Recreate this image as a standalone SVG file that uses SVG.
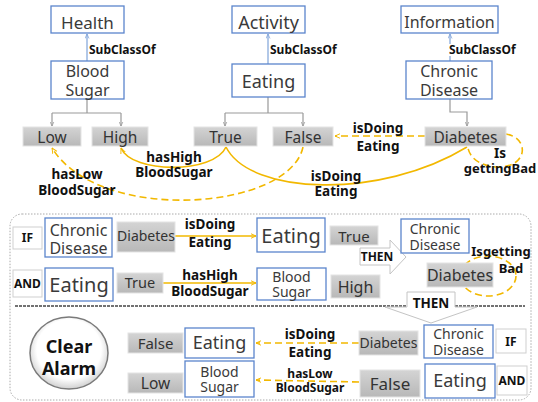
<svg xmlns="http://www.w3.org/2000/svg" width="538" height="402" viewBox="0 0 538 402">
<defs>
<linearGradient id="gg" x1="0" y1="0" x2="0" y2="1">
<stop offset="0" stop-color="#d4d4d4"/><stop offset="1" stop-color="#b8b8b8"/>
</linearGradient>
<radialGradient id="cg" cx="0.5" cy="0.45" r="0.55">
<stop offset="0.75" stop-color="#ffffff"/><stop offset="1" stop-color="#d0d0d0"/>
</radialGradient>
<marker id="ay" viewBox="0 0 10 10" refX="9" refY="5" markerWidth="6" markerHeight="6" orient="auto-start-reverse" markerUnits="userSpaceOnUse">
<path d="M0,1 L9,5 L0,9" fill="none" stroke="#f2b800" stroke-width="1.6"/>
</marker>
<marker id="ag" viewBox="0 0 10 10" refX="9" refY="5" markerWidth="5" markerHeight="5" orient="auto" markerUnits="userSpaceOnUse">
<path d="M0,1 L9,5 L0,9" fill="none" stroke="#999" stroke-width="1.5"/>
</marker>
<marker id="ab" viewBox="0 0 10 10" refX="9" refY="5" markerWidth="5" markerHeight="5" orient="auto" markerUnits="userSpaceOnUse">
<path d="M0,1 L9,5 L0,9" fill="none" stroke="#7fa3d9" stroke-width="1.5"/>
</marker>
</defs>
<style>
text{font-family:"Noto Sans","Open Sans","DejaVu Sans",sans-serif;text-anchor:middle;}
.bx{fill:#fff;stroke:#5b85cc;stroke-width:1.3;}
.gy{fill:url(#gg);stroke:#e4e4e4;stroke-width:1;}
.tb{fill:#fff;stroke:#cfcfcf;stroke-width:1;}
.t{fill:#3a3a3a;}
.g{fill:#333;}
.lb{fill:#111;font-weight:bold;}
.sub{stroke:#7fa3d9;stroke-width:1.2;fill:none;}
.gl{stroke:#999;stroke-width:1.2;fill:none;}
.ys{stroke:#f2b800;stroke-width:1.6;fill:none;}
.yd{stroke:#f2b800;stroke-width:1.6;fill:none;stroke-dasharray:7 4;}
.blk{fill:#fff;stroke:#c4c4c4;stroke-width:1;}
</style>

<!-- frame of rule section -->
<rect x="10" y="214" width="521" height="186" rx="12" fill="none" stroke="#aaa" stroke-width="1" stroke-dasharray="1.5 1.5"/>

<g id="connectors">
<!-- subclass -->
<path class="sub" d="M87,61 V34" marker-end="url(#ab)"/>
<path class="sub" d="M268,64 V34" marker-end="url(#ab)"/>
<path class="sub" d="M450,61 V34" marker-end="url(#ab)"/>
<!-- gray tree -->
<path class="gl" d="M87,99 V113 M52,113 H121"/>
<path class="gl" d="M52,113 V126" marker-end="url(#ag)"/>
<path class="gl" d="M121,113 V126" marker-end="url(#ag)"/>
<path class="gl" d="M268,97 V113 M225,113 H303"/>
<path class="gl" d="M225,113 V126" marker-end="url(#ag)"/>
<path class="gl" d="M303,113 V126" marker-end="url(#ag)"/>
<path class="gl" d="M450,99 V112 H467 V126" marker-end="url(#ag)"/>
<!-- top yellow relations -->
<path class="yd" d="M425,136 H335" marker-end="url(#ay)"/>
<path class="ys" d="M226,147 C214,174 132,174 121,148" marker-end="url(#ay)"/>
<path class="ys" d="M226,147 C250,195 380,200 467,147"/>
<path class="yd" d="M303,147 C290,210 100,225 52,148" marker-end="url(#ay)"/>
<path class="yd" d="M506,134 C530,138 528,168 497,167 C480,166 470,158 468,148"/>
<!-- rule arrows -->
<path class="ys" d="M175,236 H256" marker-end="url(#ay)"/>
<path class="ys" d="M163,283 H256" marker-end="url(#ay)"/>
<path class="yd" d="M359,343 H256" marker-end="url(#ay)"/>
<path class="yd" d="M359,382 L256,380" marker-end="url(#ay)"/>
<ellipse cx="488" cy="276" rx="28" ry="20" class="yd"/>
<!-- divider -->
<path d="M15,306 H407 M455,306 H525" stroke="#444" stroke-width="1.3" stroke-dasharray="3 1" fill="none"/>
</g>

<!-- labels -->
<g id="labels">
<text class="lb" x="89" y="54" font-size="12" style="text-anchor:start">SubClassOf</text>
<text class="lb" x="270" y="54" font-size="12" style="text-anchor:start">SubClassOf</text>
<rect x="448" y="44" width="68" height="12" fill="#fff"/>
<text class="lb" x="449" y="54" font-size="12" style="text-anchor:start">SubClassOf</text>
<text class="lb" x="378" y="133" font-size="13.5">isDoing</text>
<text class="lb" x="378" y="151" font-size="13.5">Eating</text>
<text class="lb" x="174" y="162" font-size="13.5">hasHigh</text>
<text class="lb" x="174" y="177" font-size="13.5">BloodSugar</text>
<text class="lb" x="336" y="181" font-size="13.5">isDoing</text>
<text class="lb" x="336" y="196" font-size="13.5">Eating</text>
<text class="lb" x="77" y="179" font-size="13.5">hasLow</text>
<text class="lb" x="77" y="195" font-size="13.5">BloodSugar</text>
<text class="lb" x="500" y="158" font-size="13.5">Is</text>
<text class="lb" x="500" y="173" font-size="13">gettingBad</text>
<text class="lb" x="210" y="229" font-size="13.5">isDoing</text>
<text class="lb" x="210" y="247" font-size="13.5">Eating</text>
<text class="lb" x="210" y="280" font-size="13.5">hasHigh</text>
<text class="lb" x="210" y="296" font-size="13.5">BloodSugar</text>
<text class="lb" x="501" y="256" font-size="13">Isgetting</text>
<text class="lb" x="511" y="273" font-size="13">Bad</text>
<text class="lb" x="310" y="339" font-size="13.5">isDoing</text>
<text class="lb" x="310" y="357" font-size="13.5">Eating</text>
<text class="lb" x="310" y="378" font-size="12">hasLow</text>
<text class="lb" x="310" y="392" font-size="12">BloodSugar</text>
</g>

<!-- top ontology -->
<g id="health"><rect class="bx" x="51" y="6" width="73" height="27"/><text class="t" x="87.5" y="29" font-size="17">Health</text></g>
<g id="activity"><rect class="bx" x="232" y="6" width="73" height="27"/><text class="t" x="268.5" y="29" font-size="18">Activity</text></g>
<g id="information"><rect class="bx" x="401" y="6" width="97" height="27"/><text class="t" x="449.5" y="28" font-size="16">Information</text></g>
<g id="bloodsugar"><rect class="bx" x="51" y="61" width="73" height="38"/><text class="t" x="87.5" y="77" font-size="16">Blood</text><text class="t" x="87.5" y="95.5" font-size="16">Sugar</text></g>
<g id="eating"><rect class="bx" x="232" y="64" width="73" height="33"/><text class="t" x="268.5" y="88" font-size="18">Eating</text></g>
<g id="chronic"><rect class="bx" x="406" y="61" width="86" height="38"/><text class="t" x="449" y="77" font-size="16">Chronic</text><text class="t" x="449" y="95.5" font-size="16">Disease</text></g>
<g id="low"><rect class="gy" x="23" y="127" width="58" height="19"/><text class="g" x="52" y="143" font-size="15.5">Low</text></g>
<g id="high"><rect class="gy" x="92" y="127" width="56" height="19"/><text class="g" x="120" y="143" font-size="15.5">High</text></g>
<g id="true"><rect class="gy" x="194" y="127" width="63" height="19"/><text class="g" x="225.5" y="143" font-size="15.5">True</text></g>
<g id="false"><rect class="gy" x="273" y="127" width="60" height="19"/><text class="g" x="303" y="143" font-size="15.5">False</text></g>
<g id="diabetes"><rect class="gy" x="425" y="127" width="81" height="19"/><text class="g" x="465.5" y="143" font-size="15.5">Diabetes</text></g>

<!-- rule: IF row -->
<g id="r-if"><rect class="tb" x="13" y="227" width="29" height="22"/><text class="lb" x="27.5" y="242" font-size="12">IF</text></g>
<g id="r-chronic1"><rect class="bx" x="45" y="218" width="67" height="39"/><text class="t" x="78.5" y="236" font-size="16">Chronic</text><text class="t" x="78.5" y="254" font-size="16">Disease</text></g>
<g id="r-diabetes1"><rect class="gy" x="117" y="222" width="58" height="30"/><text class="g" x="146" y="241" font-size="14">Diabetes</text></g>
<g id="r-eating1"><rect class="bx" x="257" y="218" width="68" height="34"/><text class="t" x="291" y="243" font-size="20">Eating</text></g>
<g id="r-true1"><rect class="gy" x="330" y="226" width="48" height="19"/><text class="g" x="354" y="242" font-size="15">True</text></g>
<!-- AND row -->
<g id="r-and"><rect class="tb" x="13" y="270" width="29" height="27"/><text class="lb" x="27.5" y="288" font-size="12">AND</text></g>
<g id="r-eating2"><rect class="bx" x="45" y="268" width="68" height="33"/><text class="t" x="79" y="292" font-size="20">Eating</text></g>
<g id="r-true2"><rect class="gy" x="117" y="273" width="46" height="20"/><text class="g" x="140" y="288" font-size="14.5">True</text></g>
<g id="r-blood2"><rect class="bx" x="257" y="268" width="69" height="32"/><text class="t" x="291.5" y="282" font-size="14">Blood</text><text class="t" x="291.5" y="297" font-size="14">Sugar</text></g>
<g id="r-high2"><rect class="gy" x="331" y="275" width="49" height="23"/><text class="g" x="355.5" y="293" font-size="16">High</text></g>
<!-- THEN arrows -->
<g id="then1"><polygon class="blk" points="360,248 390,248 390,240 406,257 390,274 390,265 360,265"/><text class="lb" x="377" y="261" font-size="12">THEN</text></g>
<g id="r-chronic3"><rect class="bx" x="401" y="219" width="68" height="34"/><text class="t" x="435" y="234" font-size="14">Chronic</text><text class="t" x="435" y="250" font-size="14">Disease</text></g>
<g id="r-diabetes3"><rect class="gy" x="427" y="263" width="66" height="24"/><text class="g" x="460" y="281" font-size="16">Diabetes</text></g>
<g id="then2"><polygon class="blk" points="407,292 455,292 455,307 477,307 431,323 385,307 407,307"/><text class="lb" x="431" y="308" font-size="13.5">THEN</text></g>
<!-- result rows -->
<g id="clear-alarm"><ellipse cx="69" cy="353" rx="39" ry="36" fill="url(#cg)" stroke="#7a7a7a" stroke-width="1.5"/><text class="lb" x="69" y="353" font-size="18">Clear</text><text class="lb" x="69" y="375" font-size="18">Alarm</text></g>
<g id="c-false"><rect class="gy" x="128" y="333" width="55" height="20"/><text class="g" x="155.5" y="349" font-size="15">False</text></g>
<g id="c-eating"><rect class="bx" x="185" y="328" width="69" height="30"/><text class="t" x="219.5" y="349" font-size="18">Eating</text></g>
<g id="c-low"><rect class="gy" x="128" y="373" width="55" height="20"/><text class="g" x="155.5" y="389" font-size="15.5">Low</text></g>
<g id="c-blood"><rect class="bx" x="185" y="361" width="69" height="36"/><text class="t" x="219.5" y="377" font-size="14">Blood</text><text class="t" x="219.5" y="392" font-size="14">Sugar</text></g>
<g id="c-diabetes"><rect class="gy" x="359" y="331" width="59" height="24"/><text class="g" x="388.5" y="348" font-size="14">Diabetes</text></g>
<g id="c-false2"><rect class="gy" x="360" y="370" width="60" height="27"/><text class="g" x="390" y="390" font-size="17">False</text></g>
<g id="c-chronic"><rect class="bx" x="424" y="325" width="69" height="33"/><text class="t" x="458.5" y="339" font-size="14">Chronic</text><text class="t" x="458.5" y="355" font-size="14">Disease</text></g>
<g id="c-if"><rect class="tb" x="496" y="329" width="30" height="24"/><text class="lb" x="511" y="346" font-size="12">IF</text></g>
<g id="c-eating2"><rect class="bx" x="425" y="364" width="70" height="34"/><text class="t" x="460" y="387" font-size="18">Eating</text></g>
<g id="c-and"><rect class="tb" x="497" y="366" width="30" height="29"/><text class="lb" x="512" y="385" font-size="12">AND</text></g>
</svg>
